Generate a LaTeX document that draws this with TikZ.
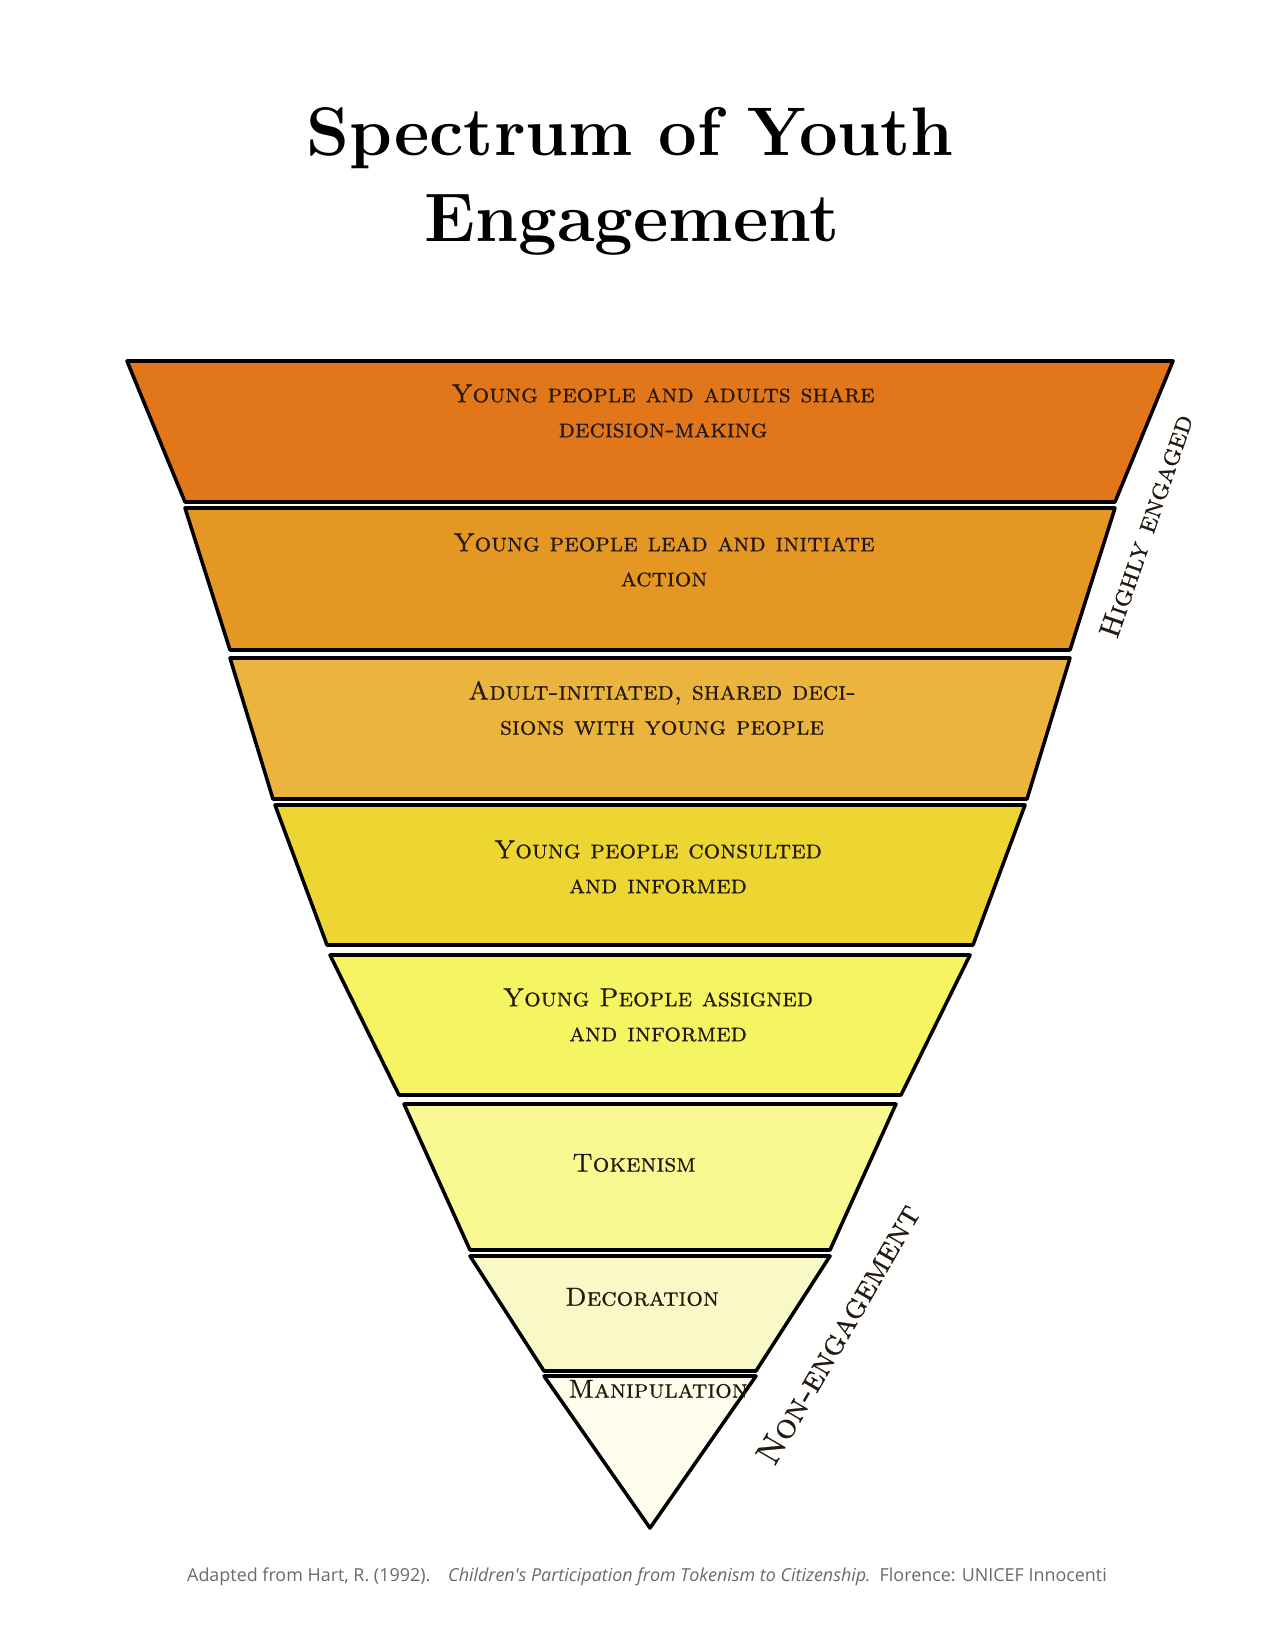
\documentclass[tikz,border=0pt]{standalone}
\usepackage{fontspec}
\newfontfamily\notefont{Open Sans}
\newfontfamily\capsfont[FakeBold=0.7]{lmromancaps10-regular.otf}
\usetikzlibrary{positioning}

\definecolor{band1}{RGB}{226,118,26}
\definecolor{band2}{RGB}{229,151,36}
\definecolor{band3}{RGB}{235,180,63}
\definecolor{band4}{RGB}{237,213,50}
\definecolor{band5}{RGB}{245,245,100}
\definecolor{band6}{RGB}{250,248,145}
\definecolor{band7}{RGB}{249,249,200}
\definecolor{band8}{RGB}{254,253,235}
\definecolor{inktext}{RGB}{35,25,15}
\definecolor{notegray}{RGB}{105,105,105}

\tikzset{
  band/.style={draw=black, line width=1.7pt, line join=round},
  bandtext/.style={text=inktext, align=center, inner sep=0pt,
    font=\capsfont\fontsize{12.5}{16.8}\selectfont},
  sidetext/.style={text=inktext, inner sep=0pt},
}

\begin{document}
\begin{tikzpicture}[x=0.48pt, y=-0.48pt]

\useasboundingbox (0,0) rectangle (1275,1650);

% Titel
\node [anchor=base, font=\fontsize{33}{40}\selectfont\bfseries] (title-1) at (630,156) {Spectrum of Youth};
\node [anchor=base, font=\fontsize{33}{40}\selectfont\bfseries] (title-2) at (632,242) {Engagement};

% Die Stufen des Trichters
\foreach \yt/\yb/\wt/\wb [count=\i] in {361/502/523/465, 508/650/465/420, 658/799/420/377,
    805/945/375/323, 955/1095/320/251, 1104/1250/246/180, 1256/1371/180/106, 1376/1528/106/0}
  \filldraw [band, fill=band\i] (650-\wt,\yt) -- (650+\wt,\yt) -- (650+\wb,\yb) -- (650-\wb,\yb) -- cycle;

\foreach \x/\y/\t [count=\i] in {663/411/{Young people and adults share\\decision-making},
    664/560/{Young people lead and initiate\\action},
    662/708/{Adult-initiated, shared deci-\\sions with young people},
    658/867/{Young people consulted\\and informed},
    658/1015/{Young People assigned\\and informed},
    634/1163/{Tokenism},
    642/1297/{Decoration},
    658/1389/{Manipulation}}
  \node [bandtext] (level-\i) at (\x,\y) {\t};

% Beschriftung am Rand
\node [sidetext, rotate=71, font=\capsfont\fontsize{14}{16}\selectfont] (high) at (1146,526) {Highly engaged};
\node [sidetext, rotate=60, font=\capsfont\fontsize{16.5}{19}\selectfont] (none) at (838,1334) {Non-engagement};

% Quelle
\node [text=notegray, font=\notefont\fontsize{8.6}{10}\selectfont] (source) at (647,1577)
  {Adapted from Hart, R. (1992).\quad \textit{Children's Participation from Tokenism to Citizenship.}\enspace Florence: UNICEF Innocenti};

\end{tikzpicture}
\end{document}
